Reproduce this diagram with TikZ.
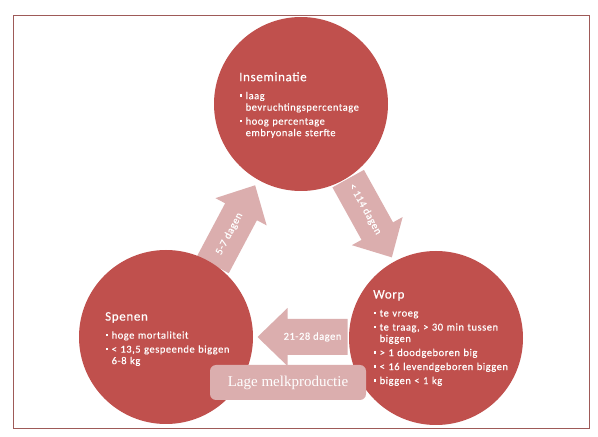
\documentclass[tikz,border=0pt]{standalone}
\usepackage{fontspec}
\setmainfont{Carlito}
\newfontfamily\bodyfont[LetterSpace=5, FakeBold=0.35]{Carlito}
\newfontfamily\boxfont{Liberation Serif}
\definecolor{phasered}{HTML}{C0504D}
\definecolor{steppink}{HTML}{DBAEAE}
\definecolor{framebrown}{HTML}{9E5A58}
% titles and bullet items inside the circles
\newcommand{\phasetitle}[1]{\setlength{\parskip}{2.5pt}{\fontsize{13}{14}\selectfont #1}\par\vspace{4pt}}
\newcommand{\itm}[1]{\hangindent=6.5pt\hangafter=1\noindent\makebox[6.5pt][l]{\hspace{0.8pt}\rule[2.4pt]{2.4pt}{2.4pt}}#1\par}
% block arrow between two phases: name, centre, direction, text angle, label
\newcommand{\cyclearrow}[5]{%
  \begin{scope}[shift={#2}, rotate=#3]
    \fill[arrowfill] (-45,-18) -- (15,-18) -- (15,-29) -- (45,0) -- (15,29) -- (15,18) -- (-45,18) -- cycle;
    \node[arrowlabel, rotate=#4] (#1) at (-10,0) {#5};
  \end{scope}}

\begin{document}
\begin{tikzpicture}[x=1pt, y=1pt,
    phase/.style={circle, fill=phasered, minimum size=174pt, inner sep=0pt},
    phasetext/.style={anchor=north west, inner sep=0pt, text width=160pt, align=left, text=white, font=\bodyfont\fontsize{10.5}{11.5}\selectfont},
    arrowfill/.style={fill=steppink},
    arrowlabel/.style={text=white, inner sep=0pt, font=\bodyfont\fontsize{10.5}{12}\selectfont},
    notebox/.style={rounded corners=6pt, fill=steppink, minimum width=156pt, minimum height=35pt, inner sep=0pt, text=white, font=\boxfont\fontsize{15}{16}\selectfont}]
    \useasboundingbox (0,0) rectangle (598,437);
    \fill[white] (0,0) rectangle (598,437);

    % Frame
    \draw[framebrown, line width=0.9pt] (13,9) rectangle (589,422);

    % Arrows
    \cyclearrow{wean2ins}{(234,212)}{62}{62}{5-7 dagen}
    \cyclearrow{ins2farrow}{(370,219)}{-61}{-61}{< 114 dagen}
    \cyclearrow{farrow2wean}{(302.5,100)}{180}{0}{21-28 dagen}

    % Circles
    \node[phase] (ins) at (301,333) {};
    \node[phase] (wean) at (166,100) {};
    \node[phase] (farrow) at (436,99) {};

    % Texts
    \node[phasetext] (instxt) at (239,365) {\phasetitle{Inseminatie}\itm{laag\newline bevruchtingspercentage}\itm{hoog percentage\newline embryonale sterfte}};
    \node[phasetext] (weantxt) at (105,125) {\phasetitle{Spenen}\itm{hoge mortaliteit}\itm{< 13,5 gespeende biggen\newline 6-8 kg}};
    \node[phasetext] (farrowtxt) at (373,147) {\phasetitle{Worp}\itm{te vroeg}\itm{te traag, > 30 min tussen\newline biggen}\itm{> 1 doodgeboren big}\itm{< 16 levendgeboren biggen}\itm{biggen < 1 kg}};

    % Note
    \node[notebox] (milk) at (288,54.5) {Lage melkproductie};
\end{tikzpicture}
\end{document}
